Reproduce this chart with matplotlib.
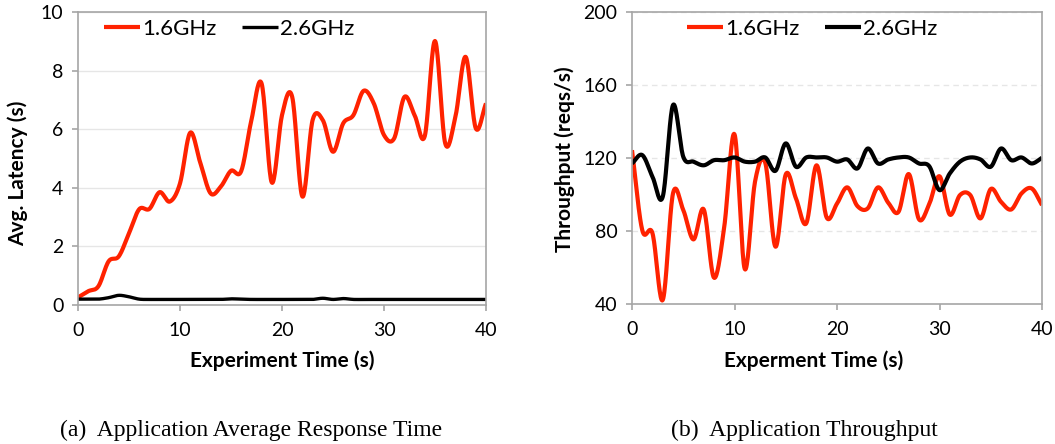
import numpy as np
import matplotlib
matplotlib.use('Agg')
import matplotlib.pyplot as plt

plt.rcParams['font.family'] = ['Lato', 'DejaVu Sans']

t = np.arange(0, 41)

# latency (s), one sample per second
lat_16 = [0.26, 0.47, 0.64, 1.49, 1.66, 2.45, 3.27, 3.28, 3.85, 3.53,
          4.15, 5.88, 4.84, 3.81, 4.04, 4.58, 4.57, 6.31, 7.56, 4.18,
          6.48, 7.10, 3.70, 6.31, 6.31, 5.23, 6.20, 6.48, 7.31, 6.88,
          5.80, 5.69, 7.10, 6.48, 5.77, 9.01, 5.52, 6.42, 8.47, 6.03,
          6.88]
lat_26 = [0.20, 0.20, 0.20, 0.25, 0.33, 0.28, 0.20, 0.19, 0.19, 0.19,
          0.19, 0.19, 0.19, 0.19, 0.19, 0.21, 0.20, 0.19, 0.19, 0.19,
          0.19, 0.19, 0.19, 0.19, 0.23, 0.19, 0.22, 0.19, 0.19, 0.19,
          0.19, 0.19, 0.19, 0.19, 0.19, 0.19, 0.19, 0.19, 0.19, 0.19,
          0.19]

# throughput (reqs/s)
thr_16 = [124.3, 80.5, 78.7, 42.2, 100.6, 91.5, 75.4, 91.8, 54.4, 82.3,
          133.0, 59.2, 107.0, 117.4, 71.4, 111.0, 97.8, 84.2, 116.0, 87.3,
          95.0, 103.9, 93.6, 92.4, 103.9, 95.5, 90.5, 111.2, 86.4, 94.7,
          110.0, 89.0, 99.7, 99.7, 86.9, 103.0, 96.0, 91.8, 100.6, 103.3,
          94.2]
thr_26 = [117.0, 121.6, 109.7, 98.8, 149.0, 120.7, 118.0, 116.0, 118.8, 118.8,
          120.3, 118.0, 118.0, 120.3, 113.0, 128.0, 115.2, 120.3, 120.3, 120.3,
          118.0, 119.2, 114.3, 125.2, 117.0, 119.2, 120.3, 120.3, 117.0, 115.5,
          102.4, 111.5, 118.0, 120.3, 119.2, 115.2, 125.2, 118.8, 120.3, 117.0,
          120.1]

RED = '#ff2200'
GRAY = '#a6a6a6'


def smooth(x, y, n=20):
    # Catmull-Rom curve through the samples, like a "smoothed line" chart
    x = np.asarray(x, float)
    y = np.asarray(y, float)
    px = np.concatenate([[2 * x[0] - x[1]], x, [2 * x[-1] - x[-2]]])
    py = np.concatenate([[2 * y[0] - y[1]], y, [2 * y[-1] - y[-2]]])
    s = np.linspace(0, 1, n, endpoint=False)
    xs, ys = [], []
    for i in range(1, len(px) - 2):
        for p, out in ((px, xs), (py, ys)):
            p0, p1, p2, p3 = p[i - 1], p[i], p[i + 1], p[i + 2]
            out.append(0.5 * (2 * p1 + (-p0 + p2) * s
                              + (2 * p0 - 5 * p1 + 4 * p2 - p3) * s ** 2
                              + (-p0 + 3 * p1 - 3 * p2 + p3) * s ** 3))
    xs.append([x[-1]])
    ys.append([y[-1]])
    return np.concatenate(xs), np.concatenate(ys)


def style(ax, ticks, grid_ls):
    for sp in ax.spines.values():
        sp.set_color(GRAY)
        sp.set_linewidth(1.2)
    ax.tick_params(direction='out', length=4.5, width=1.2, color=GRAY,
                   labelsize=14)
    ax.tick_params(axis='x', pad=8)
    ax.tick_params(axis='y', pad=6)
    ax.set_xlim(0, 40)
    ax.set_xticks([0, 10, 20, 30, 40])
    ax.set_yticks(ticks)
    ax.set_ylim(ticks[0], ticks[-1])
    ax.grid(axis='y', color='#e6e6e6', linewidth=1.0, linestyle=grid_ls)
    ax.set_axisbelow(True)


leg_kw = dict(loc='upper left', ncol=2, frameon=False, fontsize=16,
              handlelength=1.6, handletextpad=0.12, columnspacing=1.15,
              borderaxespad=0, borderpad=0)

fig = plt.figure(figsize=(10.55, 4.44), dpi=100)
ax1 = fig.add_axes([78 / 1055, 139 / 444, 408 / 1055, 293 / 444])
ax2 = fig.add_axes([632 / 1055, 140 / 444, 410 / 1055, 292 / 444])

# (a) response time
style(ax1, [0, 2, 4, 6, 8, 10], '-')
ax1.plot(*smooth(t, lat_16), color=RED, lw=3.0, label='1.6GHz',
         solid_capstyle='butt')
ax1.plot(*smooth(t, lat_26), color='black', lw=2.4, label='2.6GHz',
         solid_capstyle='butt')
ax1.set_ylabel('Avg. Latency (s)', fontsize=15, fontweight='bold')
ax1.yaxis.set_label_coords(-0.122, 0.45)
ax1.set_xlabel('Experiment Time (s)', fontsize=15, fontweight='bold')
ax1.xaxis.set_label_coords(0.5, -0.155)
ax1.legend(bbox_to_anchor=(26 / 408, 1 - 7 / 293), **leg_kw)

# (b) throughput
style(ax2, [40, 80, 120, 160, 200], (0, (4, 3)))
ax2.plot(*smooth(t, thr_16), color=RED, lw=3.0, label='1.6GHz',
         solid_capstyle='butt')
ax2.plot(*smooth(t, thr_26), color='black', lw=3.0, label='2.6GHz',
         solid_capstyle='butt')
ax2.set_ylabel('Throughput (reqs/s)', fontsize=15, fontweight='bold')
ax2.yaxis.set_label_coords(-0.139, 0.497)
ax2.set_xlabel('Experment Time (s)', fontsize=15, fontweight='bold')
ax2.xaxis.set_label_coords((814 - 632) / 410, -0.158)
ax2.legend(bbox_to_anchor=(55 / 410, 1 - 7 / 292), **leg_kw)

fig.text(251 / 1055, 1 - 430 / 444, '(a)  Application Average Response Time',
         family='Liberation Serif', fontsize=17, ha='center', va='center')
fig.text(804 / 1055, 1 - 430 / 444, '(b)  Application Throughput',
         family='Liberation Serif', fontsize=17, ha='center', va='center')

fig.savefig('out.png', dpi=100)
